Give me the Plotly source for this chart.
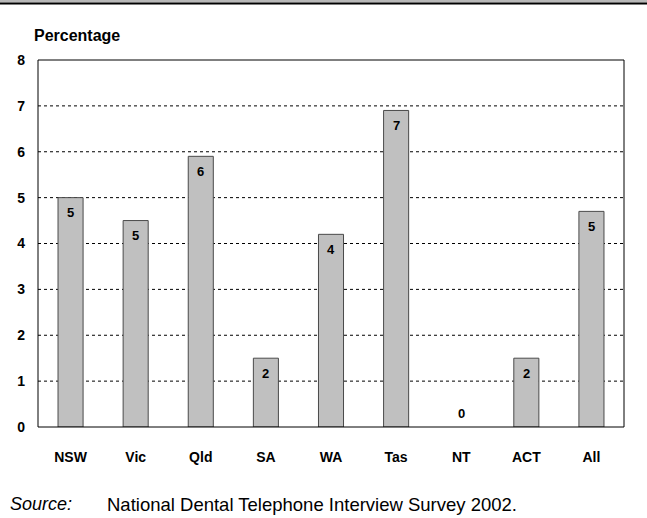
import math
import plotly.graph_objects as go

states = ["NSW", "Vic", "Qld", "SA", "WA", "Tas", "NT", "ACT", "All"]
percent = [5.0, 4.5, 5.9, 1.5, 4.2, 6.9, 0.0, 1.5, 4.7]
y_ticks = [0, 1, 2, 3, 4, 5, 6, 7, 8]

FONT = "Liberation Sans, Arial, sans-serif"
W, H = 647, 518
L, R, T, B = 38, 23, 60, 91
pw, ph = W - L - R, H - T - B


def px_x(p):
    return (p - L) / pw


def px_y(p):
    return (H - B - p) / ph


fig = go.Figure(go.Bar(
    x=states, y=percent,
    marker=dict(color="#c0c0c0",
                line=dict(color="#4a4a4a", width=[1 if v > 0 else 0 for v in percent])),
    hoverinfo="x+y",
))

# value labels (rounded, Excel style)
for s, v in zip(states, percent):
    lab = str(int(math.floor(v + 0.5)))
    fig.add_annotation(x=s, y=v, text="<b>%s</b>" % lab, showarrow=False,
                       yshift=-15 if v > 0 else 14,
                       font=dict(family=FONT, size=13, color="black"))

# dotted gridlines
for t in y_ticks[1:-1]:
    fig.add_shape(type="line", xref="paper", x0=0, x1=1, y0=t, y1=t,
                  line=dict(color="black", width=1, dash="dot"), layer="below")

# frame
fig.add_shape(type="rect", xref="paper", yref="paper", x0=0, x1=1, y0=0, y1=1,
              line=dict(color="black", width=1))

# top band (cropped page header)
fig.add_shape(type="rect", xref="paper", yref="paper", x0=px_x(0), x1=px_x(W),
              y0=px_y(2.5), y1=px_y(0), fillcolor="#b8b8b8", line_width=0)
fig.add_shape(type="line", xref="paper", yref="paper", x0=px_x(0), x1=px_x(W),
              y0=px_y(3.5), y1=px_y(3.5), line=dict(color="black", width=2))

fig.add_annotation(xref="paper", yref="paper", x=px_x(32), y=px_y(35),
                   xanchor="left", yanchor="middle", showarrow=False,
                   text="<b>Percentage</b>", font=dict(family=FONT, size=16, color="black"))
fig.add_annotation(xref="paper", yref="paper", x=px_x(8), y=px_y(504),
                   xanchor="left", yanchor="middle", showarrow=False,
                   text="<i>Source:</i>", font=dict(family=FONT, size=18, color="black"))
fig.add_annotation(xref="paper", yref="paper", x=px_x(105), y=px_y(504),
                   xanchor="left", yanchor="middle", showarrow=False,
                   text="National Dental Telephone Interview Survey 2002.",
                   font=dict(family=FONT, size=18.5, color="black"))

fig.update_layout(
    width=W, height=H,
    margin=dict(l=L, r=R, t=T, b=B),
    paper_bgcolor="white", plot_bgcolor="white",
    font=dict(family=FONT, size=14, color="black"),
    bargap=0.615, showlegend=False,
)
fig.update_xaxes(showgrid=False, zeroline=False, showline=False, ticks="",
                 ticklabelstandoff=20,
                 tickfont=dict(family=FONT, size=14, color="black", weight="bold"))
fig.update_yaxes(range=[0, 8], tickvals=y_ticks, showgrid=False, zeroline=False,
                 showline=False, ticks="", ticklabelstandoff=12,
                 tickfont=dict(family=FONT, size=14, color="black", weight="bold"))

fig.write_html("out.html", config={"displayModeBar": False},
               post_script="document.body.style.margin='0';")
